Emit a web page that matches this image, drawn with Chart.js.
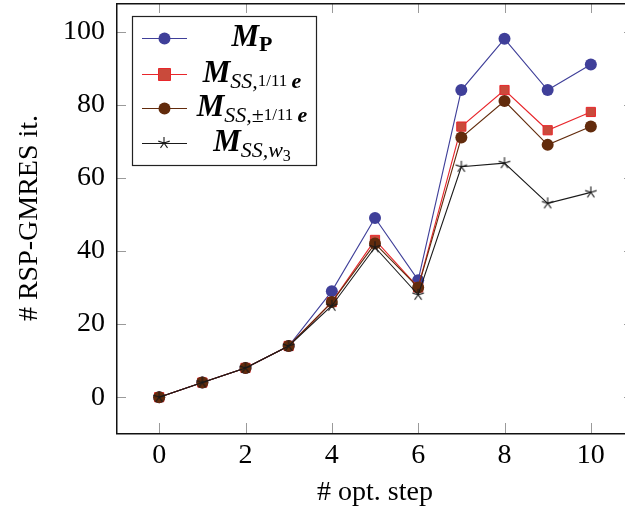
<!DOCTYPE html>
<html>
<head>
<meta charset="utf-8">
<script src="https://cdn.jsdelivr.net/npm/chart.js@4.4.0/dist/chart.umd.min.js"></script>
<style>
  html, body { margin: 0; padding: 0; overflow: hidden; background: #fff; }
  #wrap { width: 625px; height: 515px; overflow: hidden; }
</style>
</head>
<body>
<div id="wrap"><canvas id="myChart" width="640" height="515"></canvas></div>
<script>
// data
const steps = [0, 1, 2, 3, 4, 5, 6, 7, 8, 9, 10];
const mP = [0, 4, 8, 14, 29, 49, 32, 84, 98, 84, 91];
const mSSe = [0, 4, 8, 14, 26, 43, 30, 74, 84, 73, 78];
const mSSpm = [0, 4, 8, 14, 26, 42, 30, 71, 81, 69, 74];
const mSSw3 = [0, 4, 8, 14, 25, 41, 28, 63, 64, 53, 56];
const xTicks = [0, 2, 4, 6, 8, 10];
const yTicks = [0, 20, 40, 60, 80, 100];

const serif = "'Liberation Serif', serif";
const blue = '#3f3f99', red = '#e8262b', redFill = '#c94a3b', brown = '#622b0c', black = '#1a1a1a';

// five-armed star like pgfplots' "star" mark
function starMark(size) {
    const c = document.createElement('canvas');
    c.width = size; c.height = size;
    const g = c.getContext('2d');
    const r = size / 2 - 1;
    g.strokeStyle = black;
    g.lineWidth = 1.1;
    g.beginPath();
    for (let i = 0; i < 5; i++) {
        const a = -Math.PI / 2 + i * 2 * Math.PI / 5;
        g.moveTo(size / 2, size / 2);
        g.lineTo(size / 2 + r * Math.cos(a), size / 2 + r * Math.sin(a));
    }
    g.stroke();
    return c;
}
const star = starMark(14);

function toPts(arr) {
    return arr.map((v, i) => ({ x: steps[i], y: v }));
}

const mFont = 'italic bold 31px ' + serif;
const legendRows = [
    { color: blue, style: 'circle', fill: blue, runs: [
        { t: 'M', f: mFont },
        { t: 'P', f: 'bold 22px ' + serif, dy: 5 }] },
    { color: red, style: 'rect', fill: redFill, runs: [
        { t: 'M', f: mFont },
        { t: 'SS,', f: 'italic 22px ' + serif, dy: 6 },
        { t: '1/11 ', f: '17px ' + serif, dy: 4 },
        { t: 'e', f: 'italic bold 22px ' + serif, dy: 6 }] },
    { color: brown, style: 'circle', fill: brown, runs: [
        { t: 'M', f: mFont },
        { t: 'SS,', f: 'italic 22px ' + serif, dy: 6 },
        { t: '±', f: '22px ' + serif, dy: 6 },
        { t: '1/11 ', f: '17px ' + serif, dy: 4 },
        { t: 'e', f: 'italic bold 22px ' + serif, dy: 6 }] },
    { color: black, style: 'star', fill: black, runs: [
        { t: 'M', f: mFont },
        { t: 'SS,w', f: 'italic 22px ' + serif, dy: 6 },
        { t: '3', f: '16px ' + serif, dy: 10 }] }
];

const framePlugin = {
    id: 'frame',
    afterDraw(chart) {
        const ctx = chart.ctx;
        const a = chart.chartArea;
        const xs = chart.scales.x, ys = chart.scales.y;
        const L = Math.round(a.left), R = Math.round(a.right);
        const T = Math.round(a.top), B = Math.round(a.bottom);
        ctx.save();
        // inward ticks
        ctx.fillStyle = '#9a9a9a';
        xTicks.forEach(v => {
            const px = Math.round(xs.getPixelForValue(v));
            ctx.fillRect(px, B - 10, 1, 10);
            ctx.fillRect(px, T, 1, 10);
        });
        yTicks.forEach(v => {
            const py = Math.round(ys.getPixelForValue(v));
            ctx.fillRect(L, py, 10, 1);
            ctx.fillRect(R - 10, py, 10, 1);
        });
        // box
        ctx.fillStyle = '#111';
        ctx.fillRect(L, T, R - L, 1.5);
        ctx.fillRect(L, B, R - L, 1.5);
        ctx.fillRect(L, T, 1.5, B - T);
        ctx.fillRect(R, T, 1.5, B - T);

        // legend
        const lx = 132, ly = 16, lw = 184, lh = 149;
        ctx.fillStyle = '#fff';
        ctx.fillRect(lx, ly, lw, lh);
        ctx.strokeStyle = '#222';
        ctx.lineWidth = 1.2;
        ctx.strokeRect(lx + 0.5, ly + 0.5, lw, lh);
        const rowY = [38, 74, 108, 143];
        legendRows.forEach((row, i) => {
            const y = rowY[i];
            ctx.strokeStyle = row.color;
            ctx.lineWidth = 1.1;
            ctx.beginPath();
            ctx.moveTo(142, y + 0.5); ctx.lineTo(187, y + 0.5);
            ctx.stroke();
            if (row.style === 'star') {
                ctx.drawImage(star, 164 - 7, y - 7);
            } else {
                ctx.fillStyle = row.fill;
                ctx.beginPath();
                if (row.style === 'circle') ctx.arc(164.5, y + 0.5, 6, 0, 2 * Math.PI);
                else ctx.rect(158.5, y - 5.5, 12, 12);
                ctx.fill();
                if (row.style === 'rect') { ctx.strokeStyle = red; ctx.lineWidth = 1; ctx.stroke(); }
            }
            // math text, centred
            let w = 0;
            row.runs.forEach(r => { ctx.font = r.f; w += ctx.measureText(r.t).width; });
            let x = 252 - w / 2;
            const base = y + 8;
            ctx.fillStyle = '#000';
            ctx.textBaseline = 'alphabetic';
            row.runs.forEach(r => {
                ctx.font = r.f;
                ctx.fillText(r.t, x, base + (r.dy || 0));
                x += ctx.measureText(r.t).width;
            });
        });
        ctx.restore();
    }
};

new Chart(document.getElementById('myChart'), {
    type: 'line',
    data: {
        datasets: [{
            label: 'M_P',
            data: toPts(mP),
            borderColor: blue,
            backgroundColor: blue,
            borderWidth: 1.1,
            pointStyle: 'circle',
            pointRadius: 6,
            pointBorderWidth: 0,
            order: 4
        }, {
            label: 'M_SS,1/11e',
            data: toPts(mSSe),
            borderColor: red,
            backgroundColor: redFill,
            pointBorderColor: red,
            borderWidth: 1.1,
            pointStyle: 'rect',
            pointRadius: 6.5,
            pointBorderWidth: 1,
            order: 3
        }, {
            label: 'M_SS,±1/11e',
            data: toPts(mSSpm),
            borderColor: brown,
            backgroundColor: brown,
            borderWidth: 1.1,
            pointStyle: 'circle',
            pointRadius: 6,
            pointBorderWidth: 0,
            order: 2
        }, {
            label: 'M_SS,w3',
            data: toPts(mSSw3),
            borderColor: black,
            backgroundColor: black,
            borderWidth: 1.1,
            pointStyle: star,
            pointRadius: 7,
            order: 1
        }]
    },
    options: {
        responsive: false,
        animation: false,
        devicePixelRatio: 1,
        layout: { autoPadding: false, padding: { left: 0, right: 6, top: 3, bottom: 0 } },
        plugins: {
            legend: { display: false },
            tooltip: { enabled: false }
        },
        scales: {
            x: {
                type: 'linear',
                min: -1,
                max: 11,
                afterBuildTicks: s => { s.ticks = xTicks.map(v => ({ value: v })); },
                afterFit: s => { s.height = 82; s.paddingLeft = 0; s.paddingRight = 0; },
                grid: { display: false, drawTicks: false },
                border: { display: false },
                ticks: { color: '#000', padding: 6, font: { family: serif, size: 28 } },
                title: { display: true, text: '# opt. step', color: '#000', padding: { top: 0, bottom: 6 },
                    font: { family: serif, size: 28 } }
            },
            y: {
                type: 'linear',
                min: -9.8,
                max: 107.8,
                afterBuildTicks: s => { s.ticks = yTicks.map(v => ({ value: v })); },
                afterFit: s => { s.width = 116; s.paddingTop = 0; s.paddingBottom = 0; },
                grid: { display: false, drawTicks: false },
                border: { display: false },
                ticks: { color: '#000', padding: 11, font: { family: serif, size: 28 } },
                title: { display: true, text: '# RSP-GMRES it.', color: '#000', padding: { top: 13, bottom: 0 },
                    font: { family: serif, size: 28 } }
            }
        }
    },
    plugins: [framePlugin]
});
</script>
</body>
</html>
